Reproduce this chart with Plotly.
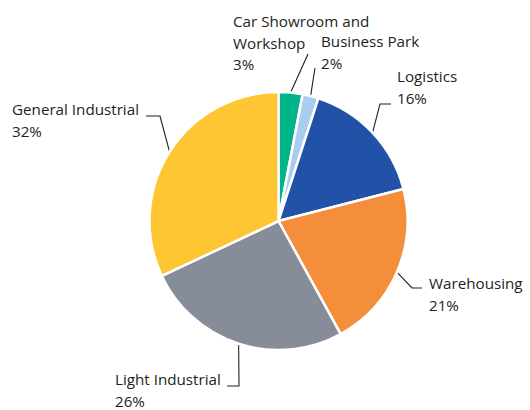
import math
import plotly.graph_objects as go

# ---- data ----
categories = ["Car Showroom and Workshop", "Business Park", "Logistics",
              "Warehousing", "Light Industrial", "General Industrial"]
label_lines = [["Car Showroom and", "Workshop"], ["Business Park"], ["Logistics"],
               ["Warehousing"], ["Light Industrial"], ["General Industrial"]]
shares = [3, 2, 16, 21, 26, 32]
colors = ["#00b489", "#a8cdee", "#2251a8", "#f48e3b", "#878c99", "#fdc632"]

# ---- layout (pixels) ----
W, H = 530, 410
CX, CY, R = 278.5, 221, 129
label_pos = [(231, 21), (319, 41), (395, 76), (427, 283), (113, 379), (10, 109)]
line_gap = 21.5
leader_pts = [[(308, 54)], [(315, 68)], [(380, 104), (391, 104)],
              [(412, 288), (422, 288)], [(239, 386), (227, 386)],
              [(160, 116), (146, 116)]]
TXT = "#231f20"
FONT = dict(family="Open Sans", size=15.2, color=TXT)

fig = go.Figure()
fig.add_trace(go.Pie(
    labels=categories, values=shares, sort=False, direction="clockwise",
    rotation=0, marker=dict(colors=colors, line=dict(color="white", width=2.5)),
    textinfo="none", hoverinfo="label+percent", showlegend=False,
    domain=dict(x=[(CX - R) / W, (CX + R) / W],
                y=[(H - CY - R) / H, (H - CY + R) / H]),
))

# leader lines from slice mid-angles
total = sum(shares)
xs, ys = [], []
cum = 0
for v, pts in zip(shares, leader_pts):
    mid = (cum + v / 2) / total * 2 * math.pi
    cum += v
    sx = CX + R * math.sin(mid)
    sy = CY - R * math.cos(mid)
    xs += [sx] + [p[0] for p in pts] + [None]
    ys += [sy] + [p[1] for p in pts] + [None]
fig.add_trace(go.Scatter(x=xs, y=ys, mode="lines", line=dict(color=TXT, width=1.1),
                         hoverinfo="skip", showlegend=False))

annotations = []
for lines, v, (lx, ly) in zip(label_lines, shares, label_pos):
    for i, t in enumerate(lines + [f"{v}%"]):
        annotations.append(dict(x=lx, y=ly + i * line_gap, text=t, showarrow=False,
                                xanchor="left", yanchor="middle", xref="x", yref="y",
                                font=FONT))

fig.update_layout(
    width=W, height=H, margin=dict(l=0, r=0, t=0, b=0),
    paper_bgcolor="white", plot_bgcolor="white",
    xaxis=dict(range=[0, W], visible=False, fixedrange=True),
    yaxis=dict(range=[H, 0], visible=False, fixedrange=True),
    annotations=annotations,
)
fig.write_html("out.html")
